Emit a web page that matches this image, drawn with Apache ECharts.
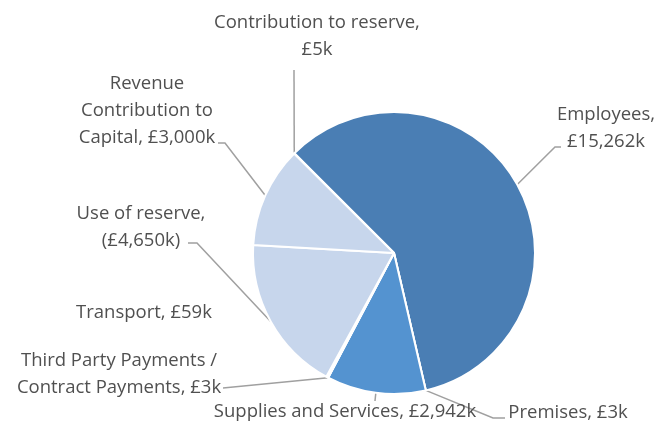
<!DOCTYPE html>
<html>
<head>
<meta charset="utf-8">
<script src="https://cdn.jsdelivr.net/npm/echarts@6/dist/echarts.min.js"></script>
<style>
  html, body { margin: 0; padding: 0; background: #ffffff; }
  #chart { width: 661px; height: 423px; }
</style>
</head>
<body>
<div id="chart"></div>
<script>
// Budget categories, in clockwise order from the top-left
const categories = [
  'Employees',
  'Premises',
  'Supplies and Services',
  'Third Party Payments / Contract Payments',
  'Transport',
  'Use of reserve',
  'Revenue Contribution to Capital',
  'Contribution to reserve'
];

// Amounts in £k (negative = drawn from reserves)
const amounts = [15262, 3, 2942, 3, 59, -4650, 3000, 5];

// Slice colours
const sliceColors = ['#4a7eb4', '#3f72aa', '#5493d0', '#a9c2e2', '#b8cde8', '#c7d6ec', '#c7d6ec', '#3f74ad'];

// Label placement: centre of the text block, where to wrap, and the leader-line bends
const labelPlacement = [
  { x: 606, y: 128, wrap: ['Employees,'], bends: [[555, 147], [561, 147]] },
  { x: 568, y: 413, wrap: [], bends: [[493, 418], [505, 418]] },
  { x: 345, y: 412, wrap: [], bends: [[375, 401]] },
  { x: 119, y: 374, wrap: ['Payments /'], bends: [[223, 388]] },
  { x: 144, y: 313, wrap: [], bends: null },
  { x: 141, y: 227, wrap: ['reserve,'], bends: [[197, 243], [188, 243]] },
  { x: 147, y: 111, wrap: ['Revenue', 'Contribution to'], bends: [[225, 143], [218, 143]] },
  { x: 317, y: 36, wrap: ['reserve,'], bends: [[294, 70]] }
];

function money(v) {
  const s = '£' + Math.abs(v).toLocaleString('en-GB') + 'k';
  return v < 0 ? '(' + s + ')' : s;
}

function labelText(i) {
  let text = categories[i] + ', ' + money(amounts[i]);
  labelPlacement[i].wrap.forEach(function (w) {
    text = text.replace(w + ' ', w + '\n');
  });
  return text;
}

const data = categories.map(function (name, i) {
  return {
    name: name,
    value: Math.abs(amounts[i]),
    itemStyle: { color: sliceColors[i] },
    labelLine: { show: labelPlacement[i].bends !== null }
  };
});

const chart = echarts.init(document.getElementById('chart'), null, { renderer: 'canvas' });

chart.setOption({
  backgroundColor: '#ffffff',
  animation: false,
  series: [{
    type: 'pie',
    center: [394, 253],
    radius: 141,
    startAngle: 135,
    clockwise: true,
    avoidLabelOverlap: false,
    data: data,
    itemStyle: { borderColor: '#ffffff', borderWidth: 2 },
    label: {
      show: true,
      position: 'outer',
      formatter: function (p) { return labelText(p.dataIndex); },
      color: '#505050',
      fontFamily: 'Open Sans',
      fontSize: 18.5,
      lineHeight: 27,
      align: 'center'
    },
    labelLine: {
      show: true,
      lineStyle: { color: '#a0a0a0', width: 1.5 }
    },
    labelLayout: function (params) {
      const i = params.dataIndex;
      const place = labelPlacement[i];
      const out = { x: place.x, y: place.y, align: 'center', verticalAlign: 'middle' };
      if (place.bends && params.labelLinePoints) {
        out.labelLinePoints = [params.labelLinePoints[0]].concat(place.bends);
      }
      return out;
    }
  }]
});
</script>
</body>
</html>
